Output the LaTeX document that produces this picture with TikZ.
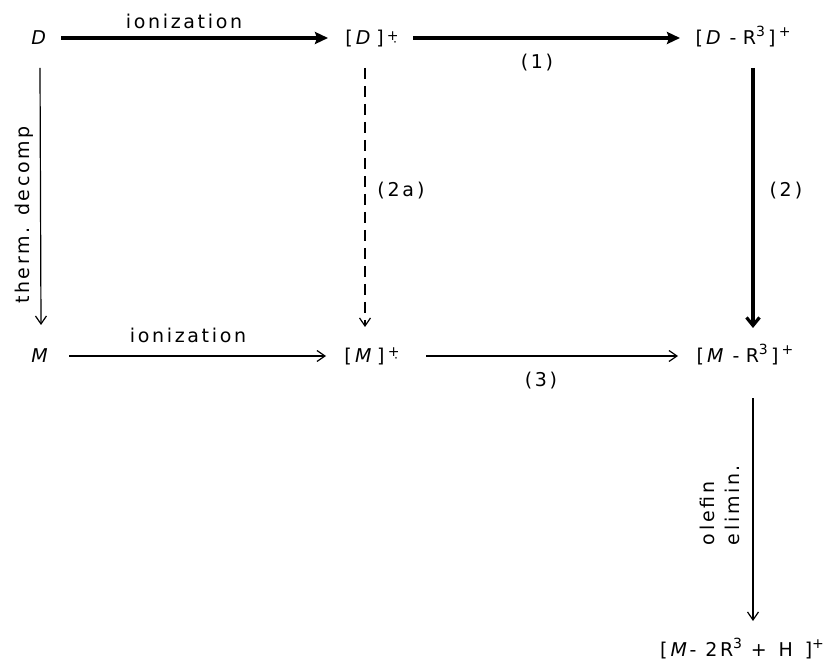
\documentclass[tikz,border=0pt]{standalone}
\usepackage{fontspec}
\setmainfont{DejaVu Sans}[LetterSpace=14]
\usetikzlibrary{arrows.meta}
\newcommand\supfont{\fontsize{14}{14}\selectfont}
\newcommand\sups[1]{\raisebox{0.4em}{\supfont #1}}
\newcommand\radc[1]{\raisebox{#1}{\supfont\addfontfeature{LetterSpace=0}+^^^^0323}}
\begin{document}
\begin{tikzpicture}[x=1pt,y=-1pt,
  font=\fontsize{19}{25}\selectfont,
  every node/.style={inner sep=0pt},
  lbl/.style={inner sep=0pt, text height=13pt, text depth=0pt},
  thinarrow/.style={line width=1.2pt, -{Straight Barb[length=8pt,width=11pt]}},
  dasharrow/.style={line width=1.2pt, dash pattern=on 11pt off 7pt, -{Straight Barb[length=8pt,width=11pt]}},
  boldarrow/.style={line width=3.8pt, -{Stealth[length=13pt,width=12pt,inset=2pt]}},
  boldvarrow/.style={line width=3.2pt, -{Straight Barb[length=8pt,width=13pt]}}]
\useasboundingbox (0,0) rectangle (830,660);
% species
\node[lbl] (D)  at (40,38)  {\textit{D}};
\node[lbl] (Dp) at (372,38) {[\,\textit{D}\,]\,\radc{4pt}};
\node[lbl] (DR) at (743,38) {[\,\textit{D}\,\,-\,\,R\sups{3}\,]\,\sups{+}};
\node[lbl] (M)  at (41,356) {\textit{M}};
\node[lbl] (Mp) at (372,356) {[\,\textit{M}\,]\,\radc{6pt}};
\node[lbl] (MR) at (745,356) {[\,\textit{M}\,\,-\,\,R\sups{3}\,]\,\sups{+}};
\node[lbl] (B)  at (742,650) {[\,\textit{M}-\ 2R\sups{3}\ +\ \,H\ \,]\sups{+}};
% labels
\node (ion1) at (184,21) {ionization};
\node (l1) at (537,63) {(1)};
\node[rotate=90] (td) at (24,215) {therm. decomp};
\node (l2a) at (401,191) {(2a\,)};
\node (l2) at (786,191) {(2\,)};
\node (ion2) at (188,335) {ionization};
\node (l3) at (541,381) {(3)};
\node[rotate=90, align=left] (ol) at (720,505) {olefin\\elimin.};
% connectors
\draw[boldarrow] ([xshift=21pt]D.center) -- ([xshift=-44pt]Dp.center);
\draw[boldarrow] ([xshift=41pt]Dp.center) -- ([xshift=-63pt]DR.center);
\draw[thinarrow] ([yshift=-30pt]D.center) -- ([yshift=31pt]M.center);
\draw[dasharrow] ([xshift=-7pt,yshift=-30pt]Dp.center) -- ([xshift=-7pt,yshift=29pt]Mp.center);
\draw[boldvarrow] ([xshift=10pt,yshift=-30pt]DR.center) -- ([xshift=8pt,yshift=28pt]MR.center);
\draw[thinarrow] ([xshift=28pt]M.center) -- ([xshift=-46pt]Mp.center);
\draw[thinarrow] ([xshift=54pt]Mp.center) -- ([xshift=-67pt]MR.center);
\draw[thinarrow] ([xshift=8pt,yshift=-42pt]MR.center) -- ([xshift=11pt,yshift=29pt]B.center);
\end{tikzpicture}
\end{document}
